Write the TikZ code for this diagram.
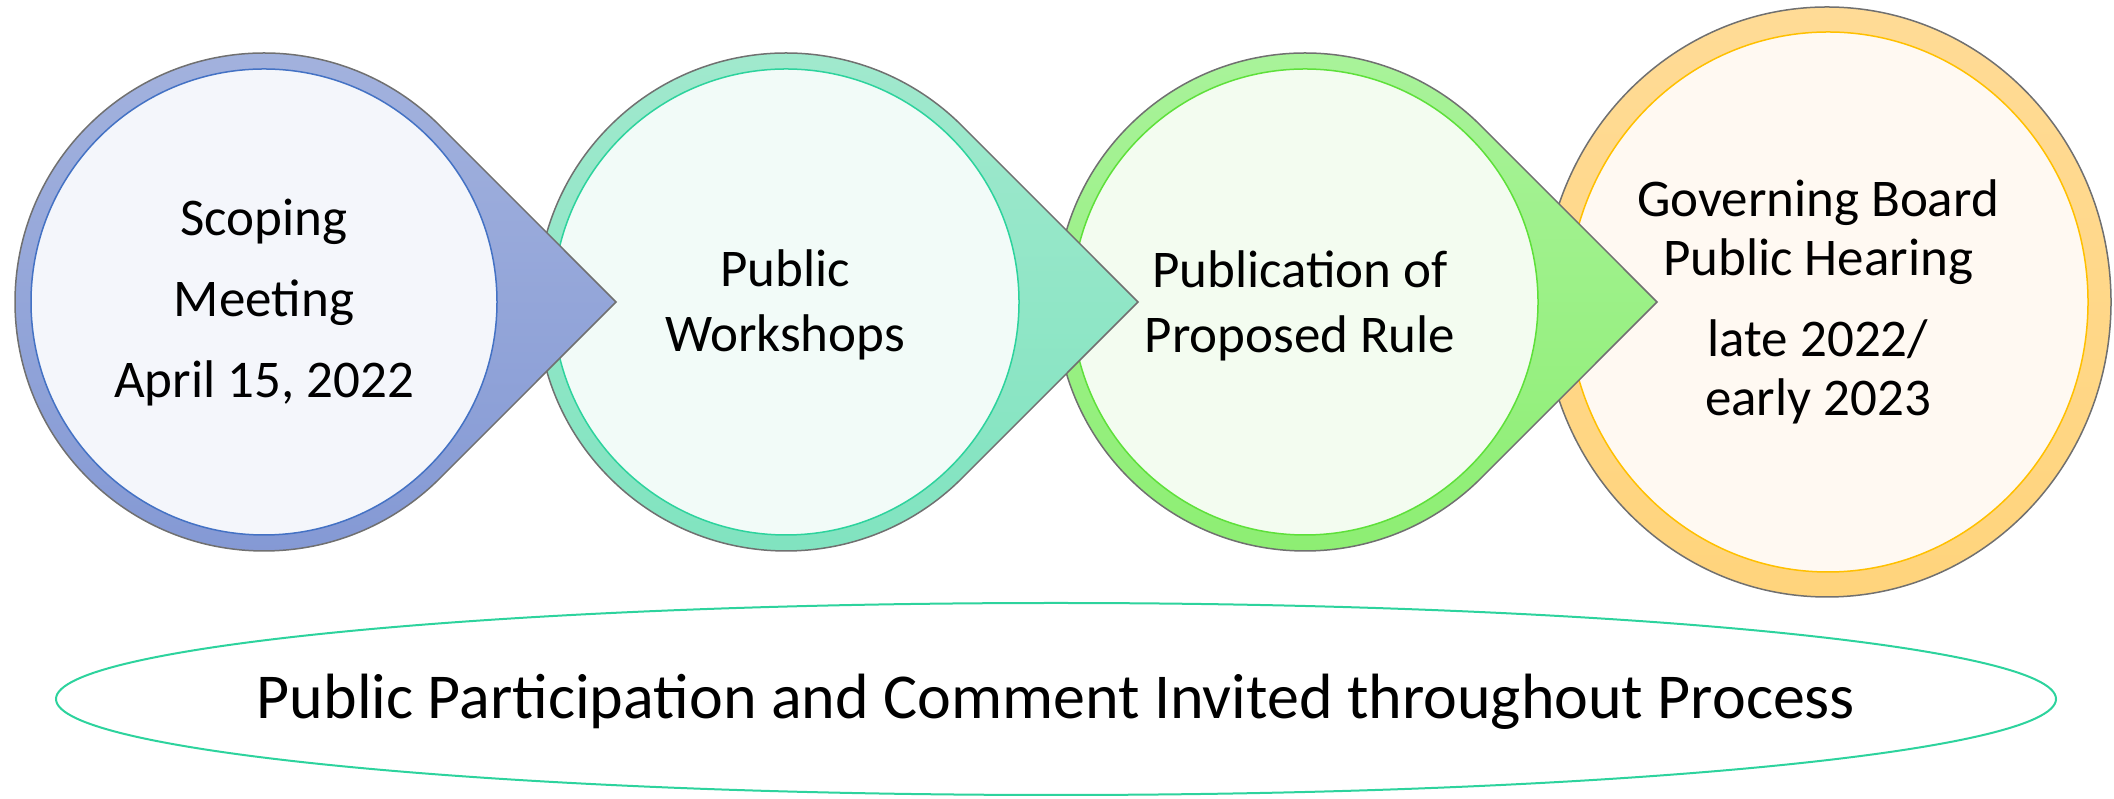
\documentclass[tikz,border=0pt]{standalone}
\usepackage{fontspec}
\setmainfont{Carlito}
\definecolor{scopetop}{HTML}{A4B3DE}
\definecolor{scopebot}{HTML}{8398D4}
\definecolor{scopeedge}{HTML}{4472C4}
\definecolor{scopecore}{HTML}{F4F6FB}
\definecolor{worktop}{HTML}{A2E9CE}
\definecolor{workbot}{HTML}{7FE3BF}
\definecolor{workedge}{HTML}{2DD39D}
\definecolor{workcore}{HTML}{F2FBF8}
\definecolor{ruletop}{HTML}{AAF39C}
\definecolor{rulebot}{HTML}{8CEE71}
\definecolor{ruleedge}{HTML}{5EE03A}
\definecolor{rulecore}{HTML}{F3FCF0}
\definecolor{hearingtop}{HTML}{FFDB96}
\definecolor{hearingbot}{HTML}{FFD47C}
\definecolor{hearingedge}{HTML}{FFC000}
\definecolor{hearingcore}{HTML}{FFF9F2}
\definecolor{rimgray}{HTML}{707070}

\tikzset{
  steptext/.style={font=\fontsize{53}{65}\selectfont, align=center, anchor=base},
}

\begin{document}
\begin{tikzpicture}[x=1pt, y=1pt]
  \useasboundingbox (0,0) rectangle (2114,799);

  % Final step: plain ring, no pointer
  \draw[top color=hearingtop, bottom color=hearingbot, draw=rimgray, line width=1.5pt]
    (1827,497) ellipse[x radius=284, y radius=295];
  \draw[fill=hearingcore, draw=hearingedge, line width=1.5pt]
    (1828,497) ellipse[x radius=260, y radius=270];

  % Pointer rings, right to left so each tip sits over the next ring
  \foreach \cx/\tone in {1305/rule, 786/work, 264/scope} {
    \draw[top color=\tone top, bottom color=\tone bot, draw=rimgray, line width=1.5pt]
      (\cx,497) ++(45:249) arc[start angle=45, end angle=315, radius=249]
      -- (\cx+352,497) -- cycle;
    \draw[fill=\tone core, draw=\tone edge, line width=1.5pt] (\cx,497) circle[radius=233];
  }

  % Step labels (base = baseline of the last line)
  \node[steptext, font=\fontsize{53}{81}\selectfont] (scoping) at (264,401)
    {Scoping\\Meeting\\April 15, 2022};
  \node[steptext] (workshops) at (785,447) {Public\\Workshops};
  \node[steptext] (publication) at (1300,446) {Publication of\\Proposed Rule};
  \node[steptext, font=\fontsize{53}{59}\selectfont] (hearing) at (1818,383)
    {Governing Board\\Public Hearing\\[22pt]late 2022/\\early 2023};

  % Banner underneath
  \node[inner sep=0pt, text height=40pt, text depth=0pt, font=\fontsize{64}{76}\selectfont]
    (participation) at (1056,100) {Public Participation and Comment Invited throughout Process};
  \draw[workedge, line width=2pt] (participation.center) ellipse[x radius=1000, y radius=96];

\end{tikzpicture}
\end{document}
